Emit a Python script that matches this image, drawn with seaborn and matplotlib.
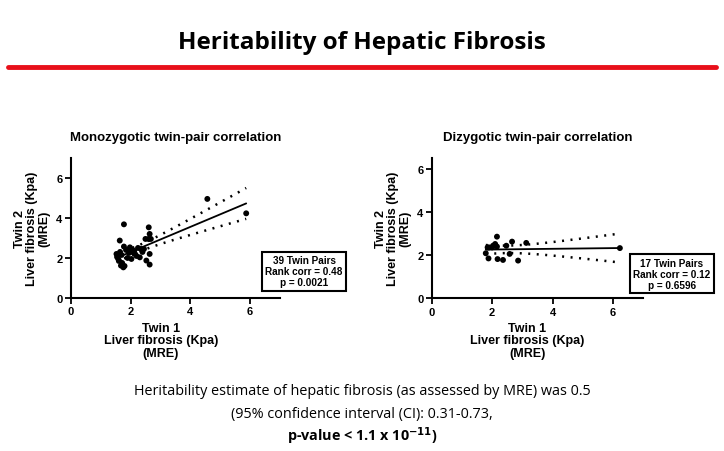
import numpy as np
import pandas as pd
import matplotlib
matplotlib.use("Agg")
import matplotlib.pyplot as plt
import seaborn as sns

# Twin liver stiffness values (Kpa, MRE)
mz_twin1 = [4.57, 5.87, 1.78, 2.61, 1.64, 2.64, 2.50, 2.60, 2.68, 1.78,
            1.98, 1.53, 1.59, 1.68, 1.76, 2.64, 2.53, 2.64, 2.09, 2.20,
            2.31, 2.03, 1.55, 1.62, 1.70, 1.85, 1.90, 2.00, 2.12, 2.25,
            2.40, 2.45, 1.72, 1.80, 2.15, 2.35, 1.95, 2.05, 1.65]
mz_twin2 = [4.95, 4.23, 3.68, 3.53, 2.87, 3.20, 2.95, 2.95, 2.95, 2.57,
            2.53, 2.20, 1.95, 1.62, 1.53, 1.67, 1.87, 2.20, 2.28, 2.10,
            2.03, 1.95, 2.05, 1.85, 2.15, 2.40, 2.00, 2.45, 2.35, 2.50,
            2.30, 2.45, 1.75, 1.60, 2.20, 2.45, 2.25, 2.40, 2.30]

dz_twin1 = [6.23, 2.16, 1.79, 1.88, 1.90, 2.03, 2.10, 2.16, 2.18, 2.36,
            2.47, 2.58, 2.66, 2.86, 3.13, 2.00, 1.85]
dz_twin2 = [2.33, 2.86, 2.09, 1.85, 2.36, 2.44, 2.52, 2.40, 1.82, 1.78,
            2.44, 2.06, 2.63, 1.75, 2.57, 2.36, 2.36]

panel_titles = ["Monozygotic twin-pair correlation", "Dizygotic twin-pair correlation"]
box_texts = ["39 Twin Pairs\nRank corr = 0.48\np = 0.0021",
             "17 Twin Pairs\nRank corr = 0.12\np = 0.6596"]
t_crit = [2.026, 2.131]  # 95% t values for df = 37 and df = 15

sns.set_style("white")
plt.rcParams['font.family'] = ['Liberation Sans', 'DejaVu Sans']
plt.rcParams['text.color'] = 'black'
plt.rcParams['axes.labelcolor'] = 'black'
plt.rcParams['xtick.color'] = 'black'
plt.rcParams['ytick.color'] = 'black'

fig = plt.figure(figsize=(7.24, 4.52), dpi=100)

# slide heading + red rule
fig.text(0.5, 0.905, "Heritability of Hepatic Fibrosis", ha="center", va="center",
         fontsize=17.5, fontweight="bold", family=["Open Sans", "DejaVu Sans"])
fig.add_artist(plt.Line2D([0.011, 0.989], [0.849, 0.849], color="#e8101a", lw=3.5))

axes = [fig.add_axes([0.0977, 0.3385, 0.289, 0.31]),
        fig.add_axes([0.5963, 0.3378, 0.292, 0.31])]
ylims = [7, 6.5]
datasets = [(mz_twin1, mz_twin2), (dz_twin1, dz_twin2)]

for i, ax in enumerate(axes):
    x = np.array(datasets[i][0])
    y = np.array(datasets[i][1])
    df = pd.DataFrame({"twin1": x, "twin2": y})

    # linear fit with 95% confidence band
    slope, intercept = np.polyfit(x, y, 1)
    n = len(x)
    resid = y - (slope * x + intercept)
    s = np.sqrt((resid ** 2).sum() / (n - 2))
    sxx = ((x - x.mean()) ** 2).sum()
    xs = np.linspace(x.min(), x.max(), 100)
    fit = slope * xs + intercept
    half = t_crit[i] * s * np.sqrt(1 / n + (xs - x.mean()) ** 2 / sxx)
    line_df = pd.DataFrame({"x": xs, "fit": fit, "lo": fit - half, "hi": fit + half})

    sns.lineplot(data=line_df, x="x", y="fit", ax=ax, color="black", lw=1.3)
    sns.lineplot(data=line_df, x="x", y="hi", ax=ax, color="black", lw=1.8,
                 linestyle=(0, (0.8, 2.6)))
    sns.lineplot(data=line_df, x="x", y="lo", ax=ax, color="black", lw=1.8,
                 linestyle=(0, (0.8, 2.6)))
    sns.scatterplot(data=df, x="twin1", y="twin2", ax=ax, color="black", s=18,
                    edgecolor="none", zorder=5)

    ax.set_xlim(0, 7)
    ax.set_ylim(0, ylims[i])
    ax.set_xticks([0, 2, 4, 6])
    ax.set_yticks([0, 2, 4, 6])
    ax.tick_params(axis="both", direction="out", length=4, width=1.3,
                   labelsize=8, pad=2, left=True, bottom=True)
    for lab in ax.get_xticklabels() + ax.get_yticklabels():
        lab.set_fontweight("bold")
    sns.despine(ax=ax)
    for sp in ["left", "bottom"]:
        ax.spines[sp].set_linewidth(1.5)
        ax.spines[sp].set_color("black")
    ax.set_xlabel("")
    ax.set_ylabel("Twin 2\nLiver fibrosis (Kpa)\n(MRE)", fontsize=9,
                  fontweight="bold", labelpad=4, linespacing=1.05)
    ax.set_title(panel_titles[i], fontsize=9.5, fontweight="bold", pad=13)

# x axis labels
for xc in [0.222, 0.728]:
    fig.text(xc, 0.245, "Twin 1\nLiver fibrosis (Kpa)\n(MRE)", ha="center", va="center",
             fontsize=9, fontweight="bold", linespacing=1.05)

# stats boxes
for (xc, yc), txt in zip([(0.42, 0.398), (0.928, 0.392)], box_texts):
    fig.text(xc, yc, txt, ha="center", va="center", fontsize=7.2, fontweight="bold",
             linespacing=1.15,
             bbox=dict(boxstyle="square,pad=0.33", fc="white", ec="black", lw=1.5))

# footnote
foot = dict(ha="center", va="center", fontsize=10.4, family=["Open Sans", "DejaVu Sans"],
            color="black")
fig.text(0.5, 0.133, "Heritability estimate of hepatic fibrosis (as assessed by MRE) was 0.5", **foot)
fig.text(0.5, 0.084, "(95% confidence interval (CI): 0.31-0.73,", **foot)
fig.text(0.5, 0.035, r"p-value < 1.1 x 10$^{\mathbf{-11}}$)", fontweight="bold", **foot)

fig.savefig("out.png", dpi=100)
